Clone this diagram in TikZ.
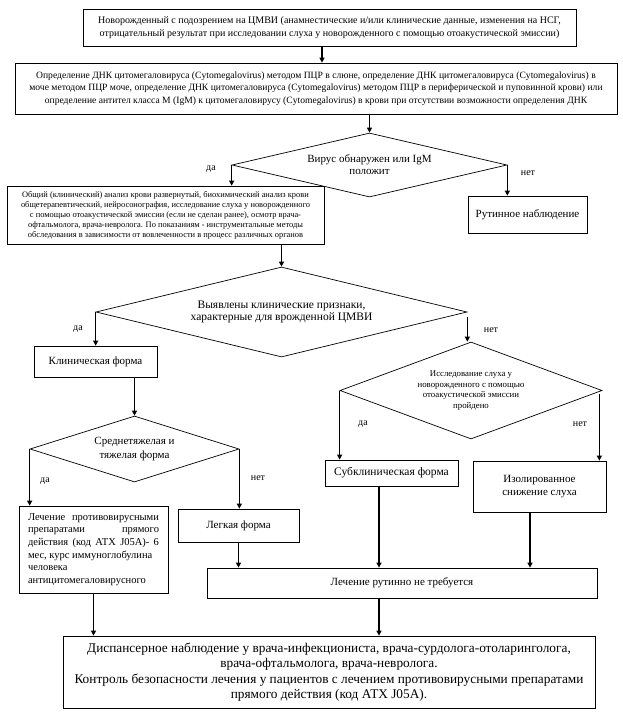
\documentclass[tikz,border=0pt]{standalone}
\usepackage{fontspec}
\setmainfont{Liberation Serif}
\newfontfamily\tnr{Liberation Serif}
\usetikzlibrary{arrows.meta,shapes.geometric}
\begin{document}
\begin{tikzpicture}[x=1pt,y=-1pt,
  bx/.style={draw, line width=0.7pt, inner sep=1pt, align=center},
  dm/.style={draw, shape=diamond, line width=0.7pt, inner sep=0pt, align=center},
  arr/.style={line width=1.6pt, -{Triangle[length=5pt,width=5pt]}},
  lbl/.style={font=\tnr\fontsize{10}{12}\selectfont, inner sep=0pt},
]
\useasboundingbox (0,0) rectangle (623,720);

\node[bx, minimum width=493, minimum height=37, font=\tnr\fontsize{10}{13.5}\selectfont] (b1) at (329.5,27.5)
 {Новорожденный с подозрением на ЦМВИ (анамнестические и/или клинические данные, изменения на НСГ,\\ отрицательный результат при исследовании слуха у новорожденного с помощью отоакустической эмиссии)};

\node[bx, minimum width=602, minimum height=51, font=\tnr\fontsize{9.6}{12.5}\selectfont] (b2) at (316,88.5)
 {Определение ДНК цитомегаловируса (Cytomegalovirus) методом ПЦР в слюне, определение ДНК цитомегаловируса (Cytomegalovirus) в\\
  моче методом ПЦР моче, определение ДНК цитомегаловируса (Cytomegalovirus) методом ПЦР в периферической и пуповинной крови) или\\
  определение антител класса M (IgM) к цитомегаловирусу (Cytomegalovirus) в крови при отсутствии возможности определения ДНК};

\node[dm, minimum width=275, minimum height=64, shape aspect=4.3, font=\tnr\fontsize{11}{12}\selectfont] (d1) at (369.5,165)
 {Вирус обнаружен или IgM\\ положит};

\node[bx, minimum width=317, minimum height=58, font=\tnr\fontsize{8.4}{10}\selectfont] (b3) at (165.5,215)
 {Общий (клинический) анализ крови развернутый, биохимический анализ крови\\
  общетерапевтический, нейросонография, исследование слуха у новорожденного\\
  с помощью отоакустической эмиссии (если не сделан ранее), осмотр врача-\\
  офтальмолога, врача-невролога. По показаниям - инструментальные методы\\
  обследования в зависимости от вовлеченности в процесс различных органов};

\node[bx, minimum width=119, minimum height=37, font=\tnr\fontsize{11}{13}\selectfont] (rut) at (527.5,214.5)
 {Рутинное наблюдение};

\node[dm, minimum width=371, minimum height=90, shape aspect=4.12, font=\tnr\fontsize{11.5}{12.5}\selectfont] (d2) at (281.5,312)
 {Выявлены клинические признаки,\\ характерные для врожденной ЦМВИ};

\node[bx, minimum width=123, minimum height=31, font=\tnr\fontsize{11}{13}\selectfont] (klin) at (95.5,361.5)
 {Клиническая форма};

\node[dm, minimum width=262, minimum height=97, shape aspect=2.7, font=\tnr\fontsize{8.8}{10.5}\selectfont] (d3) at (471,390.5)
 {Исследование слуха у\\ новорожденного с помощью\\ отоакустической эмиссии\\ пройдено};

\node[dm, minimum width=209, minimum height=66, shape aspect=3.17, font=\tnr\fontsize{11}{14}\selectfont] (d4) at (134.5,449)
 {\raisebox{-3pt}{Среднетяжелая и}\\ \raisebox{-3pt}{тяжелая форма}};

\node[draw, line width=0.7pt, inner sep=0pt, minimum width=149, minimum height=87, text width=131, align=justify,
      font=\tnr\fontsize{10.5}{12.6}\selectfont] (lech) at (93.5,549.5)
 {\hyphenpenalty=10000 \exhyphenpenalty=10000 \noindent Лечение противовирусными\linebreak препаратами прямого\linebreak действия (код АТХ J05A)- 6\linebreak мес, курс иммуноглобулина\newline человека\newline антицитомегаловирусного};

\node[bx, minimum width=121, minimum height=33, font=\tnr\fontsize{11}{13}\selectfont] (leg) at (238.5,525.5)
 {Легкая форма};

\node[bx, minimum width=133, minimum height=26, font=\tnr\fontsize{11.5}{13}\selectfont] (sub) at (391.5,473)
 {Субклиническая форма};

\node[bx, minimum width=133, minimum height=51, font=\tnr\fontsize{11}{13.5}\selectfont] (izo) at (539.5,486.5)
 {Изолированное\\ снижение слуха};

\node[bx, minimum width=390, minimum height=30, font=\tnr\fontsize{11}{13}\selectfont] (rut2) at (402,583)
 {Лечение рутинно не требуется};

\node[bx, minimum width=532, minimum height=72, font=\tnr\fontsize{13.3}{15.5}\selectfont] (fin) at (329,672)
 {Диспансерное наблюдение у врача-инфекциониста, врача-сурдолога-отоларинголога,\\
  врача-офтальмолога, врача-невролога.\\
  Контроль безопасности лечения у пациентов с лечением противовирусными препаратами\\
  прямого действия (код АТХ J05A).};

% labels
\node[lbl] (l1) at (211,169) {да};
\node[lbl] (l2) at (528,173) {нет};
\node[lbl] (l3) at (78,329) {да};
\node[lbl] (l4) at (491,330) {нет};
\node[lbl] (l5) at (363,424) {да};
\node[lbl] (l6) at (580,424) {нет};
\node[lbl] (l7) at (45,481) {да};
\node[lbl] (l8) at (258,478) {нет};

% connectors
\draw[arr] ([xshift=-7.5pt]b1.south) -- ([xshift=-7.5pt]b1.south |- b2.north);
\draw[arr] (d1.north |- b2.south) -- (d1.north);
\draw[arr] (d1.west) -- (d1.west |- b3.north);
\draw[arr] (d1.east) -- (d1.east |- rut.north);
\draw[arr] (d2.north |- b3.south) -- (d2.north);
\draw[arr] (d2.west) -- (d2.west |- klin.north);
\draw[arr] ([yshift=-5pt]d2.east) -- (d2.east |- d3.north);
\draw[arr] (d4.north |- klin.south) -- (d4.north);
\draw[arr] (d4.west) -- (d4.west |- lech.north);
\draw[arr] (d4.east) -- (d4.east |- leg.north);
\draw[arr] (d3.west) -- (d3.west |- sub.north);
\draw[arr] ([xshift=-3pt,yshift=-3pt]d3.east) -- ([xshift=-3pt]d3.east |- izo.north);
\draw[arr] (leg.south) -- (leg.south |- rut2.north);
\draw[arr] ([xshift=-12.5pt]sub.south) -- ([xshift=-12.5pt]sub.south |- rut2.north);
\draw[arr] ([xshift=-9.5pt]izo.south) -- ([xshift=-9.5pt]izo.south |- rut2.north);
\draw[arr] (lech.south) -- (lech.south |- fin.north);
\draw[arr] ([xshift=-23pt]rut2.south) -- ([xshift=-23pt]rut2.south |- fin.north);
\end{tikzpicture}
\end{document}
